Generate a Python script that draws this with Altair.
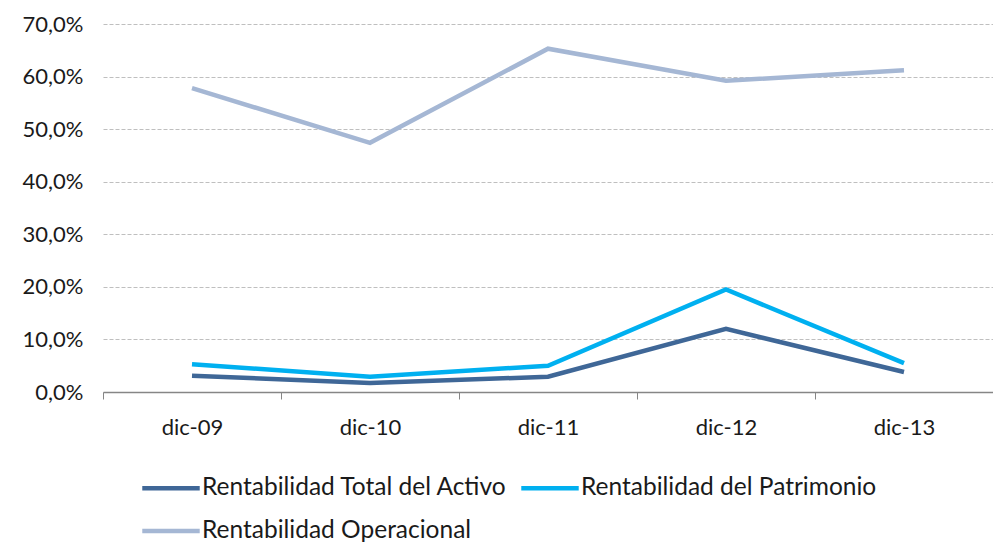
import altair as alt
import pandas as pd

categories = ["dic-09", "dic-10", "dic-11", "dic-12", "dic-13"]
series_names = ["Rentabilidad Total del Activo", "Rentabilidad del Patrimonio", "Rentabilidad Operacional"]
activo = [0.031, 0.017, 0.029, 0.120, 0.038]
patrimonio = [0.053, 0.029, 0.050, 0.195, 0.055]
operacional = [0.578, 0.474, 0.653, 0.592, 0.612]
colors = ["#3F6797", "#00B0F0", "#A5B7D4"]
y_ticks = [0, 0.1, 0.2, 0.3, 0.4, 0.5, 0.6, 0.7]

rows = []
for name, vals in zip(series_names, [activo, patrimonio, operacional]):
    for c, v in zip(categories, vals):
        rows.append({"cat": c, "serie": name, "val": v})
df = pd.DataFrame(rows)

FONT = "Lato"

chart = alt.Chart(df).mark_line(strokeWidth=4.5, strokeJoin="miter").encode(
    x=alt.X("cat:N", sort=categories, title=None, bandPosition=0.5,
            scale=alt.Scale(type="band", paddingInner=0, paddingOuter=0),
            axis=alt.Axis(labelAngle=0, tickBand="extent", domainColor="#868686",
                          tickColor="#868686", tickSize=7, domainWidth=1.5,
                          labelFontSize=22, labelColor="#1a1a1a", labelFont=FONT,
                          labelPadding=18, grid=False)),
    y=alt.Y("val:Q", title=None,
            scale=alt.Scale(domain=[0, 0.7], nice=False),
            axis=alt.Axis(values=y_ticks, domain=False, ticks=False,
                          labelExpr="replace(format(datum.value, '.1%'), '.', ',')",
                          labelFontSize=22, labelColor="#1a1a1a", labelFont=FONT,
                          labelPadding=20, gridColor="#BFBFBF", gridDash=[4, 2],
                          gridWidth=1.2)),
    color=alt.Color("serie:N", sort=series_names,
                    scale=alt.Scale(domain=series_names, range=colors),
                    legend=alt.Legend(title=None, orient="none", legendX=37, legendY=433,
                                      direction="horizontal", columns=2, symbolType="stroke",
                                      symbolSize=3300, symbolStrokeWidth=4.5,
                                      labelFontSize=24.5, labelFont=FONT,
                                      labelColor="#1a1a1a", labelOffset=0,
                                      columnPadding=4, rowPadding=-1,
                                      labelLimit=400)),
    order=alt.value(0),
).properties(
    width=890, height=368,
    padding={"left": 95, "top": 16, "right": 0, "bottom": 150},
    autosize=alt.AutoSizeParams(type="none"),
).configure_view(stroke=None)

chart.save("out.html", embed_options={"renderer": "svg", "actions": False})
